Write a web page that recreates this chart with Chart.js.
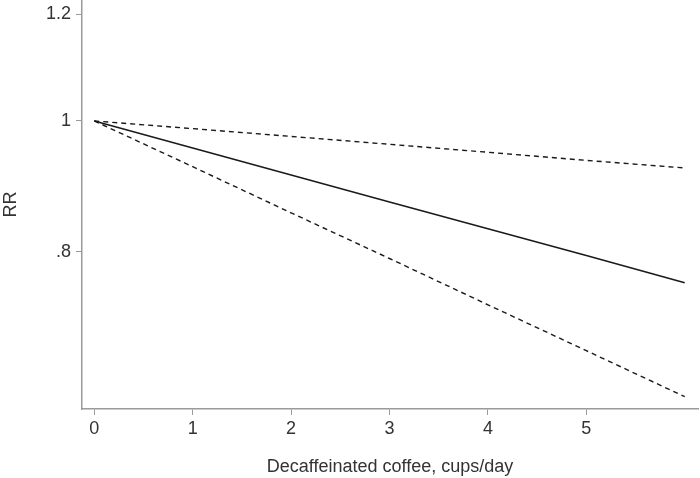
<!DOCTYPE html>
<html lang="en">
<head>
  <meta charset="UTF-8" />
  <title>Decaffeinated coffee RR</title>
  <script src="https://cdn.jsdelivr.net/npm/chart.js"></script>
  <style>
    body {
      margin: 0;
      background-color: white;
    }
    canvas {
      display: block;
    }
  </style>
</head>
<body>
  <canvas id="rrChart" width="700" height="478"></canvas>

  <script>
    // cups/day
    const cups = [0, 1, 2, 3, 4, 5, 6];
    // relative risk and its confidence band
    const rr = [1, 0.955, 0.912, 0.871, 0.832, 0.795, 0.759];
    const upperCI = [1, 0.987, 0.974, 0.961, 0.948, 0.935, 0.923];
    const lowerCI = [1, 0.925, 0.855, 0.791, 0.731, 0.676, 0.625];
    const yTicks = [0.8, 1, 1.2];
    const xTicks = [0, 1, 2, 3, 4, 5];

    const textColor = "#333";
    const axisColor = "#9a9a9a";
    const font = { family: "Liberation Sans, Arial, sans-serif", size: 18 };

    const toPoints = vals => cups.map((c, i) => ({ x: c, y: vals[i] }));

    const lineSet = (vals, dashed) => ({
      data: toPoints(vals),
      borderColor: "#1a1a1a",
      borderWidth: dashed ? 1.4 : 1.6,
      borderDash: dashed ? [5, 4] : [],
      pointRadius: 0,
      tension: 0,
      fill: false
    });

    new Chart(document.getElementById("rrChart").getContext("2d"), {
      type: "line",
      data: {
        datasets: [
          lineSet(upperCI, true),
          lineSet(rr, false),
          lineSet(lowerCI, true)
        ]
      },
      options: {
        responsive: false,
        animation: false,
        layout: { padding: { top: 0, right: 2, bottom: 0, left: 0 } },
        plugins: {
          legend: { display: false },
          tooltip: { enabled: false }
        },
        scales: {
          x: {
            type: "linear",
            min: -0.125,
            max: 6.135,
            afterBuildTicks: s => { s.ticks = xTicks.map(v => ({ value: v })); },
            afterFit: s => {
              s.height = 69;
              s.paddingLeft = 0;
              s.paddingRight = 0;
            },
            grid: {
              drawOnChartArea: false,
              drawTicks: true,
              tickLength: 6,
              color: axisColor
            },
            border: { color: axisColor, width: 1.5 },
            ticks: {
              color: textColor,
              font: font,
              padding: 3,
              maxRotation: 0
            },
            title: {
              display: true,
              text: "Decaffeinated coffee, cups/day",
              color: textColor,
              font: font,
              padding: 0
            }
          },
          y: {
            type: "logarithmic",
            min: 0.612,
            max: 1.229,
            afterBuildTicks: s => { s.ticks = yTicks.map(v => ({ value: v })); },
            afterFit: s => {
              s.width = 82;
              s.paddingTop = 0;
              s.paddingBottom = 0;
            },
            grid: {
              drawOnChartArea: false,
              drawTicks: true,
              tickLength: 6,
              color: axisColor
            },
            border: { color: axisColor, width: 1.5 },
            ticks: {
              color: textColor,
              font: font,
              padding: 5,
              callback: v => v === 1 ? "1" : String(v).replace(/^0/, "")
            },
            title: {
              display: true,
              text: "RR",
              color: textColor,
              font: font,
              padding: 0
            }
          }
        }
      }
    });
  </script>
</body>
</html>
